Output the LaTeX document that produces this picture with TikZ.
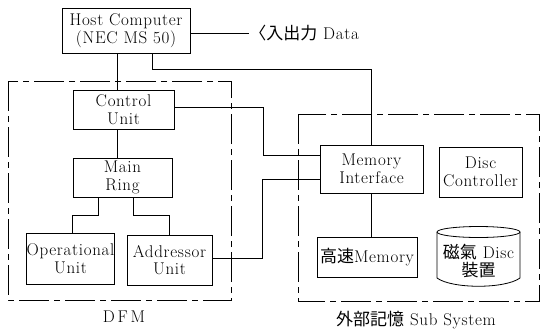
\documentclass[tikz,border=0pt]{standalone}
\usepackage{fontspec}
\setmainfont{Latin Modern Roman}[LetterSpace=4]
\newfontfamily\cjk{Noto Sans CJK JP}
\begin{document}
\begin{tikzpicture}[x=1pt,y=-1pt,line width=0.8pt,
  box/.style={draw,inner sep=0pt,align=center,font=\fontsize{17}{17.5}\selectfont},
  lbl/.style={inner sep=0pt,font=\fontsize{17}{17.5}\selectfont},
  frame/.style={dash pattern=on 30pt off 5pt on 6pt off 5pt}]
\useasboundingbox (0,0) rectangle (541,333);
% frames
\draw[frame] (8,81) rectangle (231,300);
\draw[frame] (298,114) rectangle (539,301);
% boxes
\node[box,minimum width=128pt,minimum height=45pt] (host) at (126,30.5) {Host Computer\\[1pt](NEC MS 50)};
\node[box,minimum width=101pt,minimum height=39pt] (control) at (123.5,109.5) {Control\\Unit};
\node[box,minimum width=99pt,minimum height=39pt] (ring) at (122.5,177.5) {Main\\Ring};
\node[box,minimum width=85pt,minimum height=51pt] (op) at (70.5,258.5) {Operational\\Unit};
\node[box,minimum width=85pt,minimum height=50pt] (addr) at (169.5,260) {Addressor\\Unit};
\node[box,minimum width=103pt,minimum height=48pt] (mi) at (371.5,169) {Memory\\Interface};
\node[box,minimum width=83pt,minimum height=50pt] (dc) at (480.5,172) {Disc\\Controller};
\node[box,minimum width=100pt,minimum height=40pt] (hs) at (367,257) {{\cjk 高速}Memory};
% cylinder
\draw (437,232) -- (437,278) .. controls (452,289) and (505,289) .. (520,278) -- (520,232);
\draw (478.5,232) ellipse (41.5pt and 5.5pt);
\node[lbl,align=center] (disc) at (478.5,261) {{\cjk 磁氣} Disc\\{\cjk 裝置}};
% labels
\node[lbl,anchor=west] (data) at (249,33) {{\cjk 〈入出力} Data};
\node[lbl] (dfm) at (124,317) {D\,F\,M};
\node[lbl] (sub) at (416,320) {{\cjk 外部記憶} Sub System};
% coordinates
\coordinate (c1) at (117,0);
\coordinate (c2) at (152,69);
\coordinate (k1) at (263,155);
\coordinate (k2) at (262,179);
\coordinate (m1) at (98,215);
\coordinate (m2) at (72,215);
\coordinate (m3) at (133,215);
% connectors
\draw ([yshift=-2.5pt]host.east) -- (data.west);
\draw (host.south -| c1) -- (control.north -| c1);
\draw (host.south -| c2) -- (c2) -- (mi.north |- c2) -- (mi.north);
\draw (control.south -| c1) -- (ring.north -| c1);
\draw ([yshift=2.5pt]control.east) -| (k1) -- (k1 -| mi.west);
\draw ([yshift=2pt]addr.east) -| (k2) -- (k2 -| mi.west);
\draw (ring.south -| m1) -- (m1) -- (m2) -- (op.north -| m2);
\draw (ring.south -| m3) -- (m3) -| (addr.north);
\draw (mi.south) -- (hs.north -| mi.south);
\end{tikzpicture}
\end{document}
